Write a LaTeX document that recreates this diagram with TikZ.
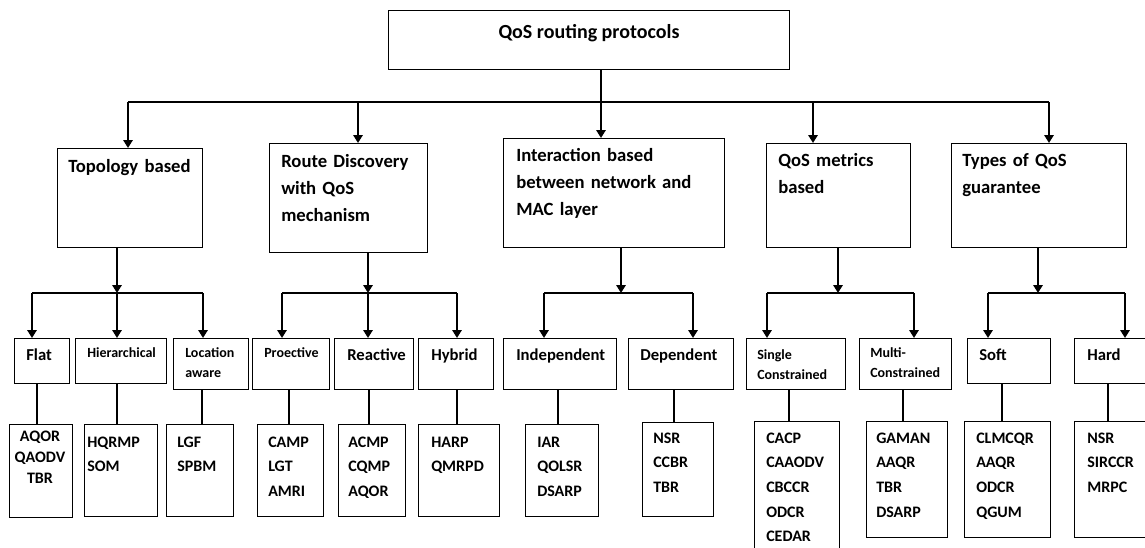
\documentclass[tikz,border=0pt]{standalone}
\usepackage{fontspec}
\setmainfont{Carlito}
\usetikzlibrary{arrows.meta}

\begin{document}
\begin{tikzpicture}[
    % Environment Config
    x=0.75pt, y=-0.75pt,
    Box/.style={% Style for the boxes
      draw,
      line width=1pt,
      anchor=north west,
      inner sep=0pt
    },
    Size/.style 2 args={% Box size in pixels
      minimum width=#1*0.75pt,
      minimum height=#2*0.75pt
    },
    Txt/.style={% Style for the texts in the boxes
      anchor=base west,
      inner sep=0pt,
      align=left,
      text width=6cm
    },
    TopTxt/.style={Txt, font={\fontsize{14}{20.3}\selectfont\bfseries}},
    MidTxt/.style={Txt, font={\fontsize{12.5}{16}\selectfont\bfseries}},
    SmallTxt/.style={Txt, font={\fontsize{10.5}{15}\selectfont\bfseries}},
    LeafTxt/.style={Txt, font={\fontsize{12}{18.5}\selectfont\bfseries}},
    MyArrow/.style={% Style for the arrows
      -{Triangle[length=6pt,width=7pt]},
      line width=1.8pt
    },
    Bus/.style={line width=1pt},
    Link/.style={line width=0.8pt}
  ]

  \useasboundingbox (0,0) rectangle (1145,547);

  % Level one
  \node[Box, Size={401}{59}] (Root) at (388,10) {};
  \node[Box, Size={145}{99}] (Topo) at (57,148) {};
  \node[Box, Size={158}{109}] (Route) at (269,143) {};
  \node[Box, Size={221}{109}] (Inter) at (503,138) {};
  \node[Box, Size={144}{104}] (Metric) at (766,143) {};
  \node[Box, Size={175}{104}] (Types) at (951,143) {};

  \node[inner sep=0pt, anchor=base, font={\fontsize{15}{18}\selectfont\bfseries}] (Root-T) at (589,38) {QoS routing protocols};
  \node[TopTxt] (Topo-T) at (68,172) {Topology based};
  \node[TopTxt] (Route-T) at (281,167) {Route Discovery\\with QoS\\mechanism};
  \node[TopTxt] (Inter-T) at (516,161) {Interaction based\\between network and\\MAC layer};
  \node[TopTxt] (Metric-T) at (778,166) {QoS metrics\\based};
  \node[TopTxt] (Types-T) at (962,166) {Types of QoS\\guarantee};

  % Level two
  \node[Box, Size={55}{45}] (Flat) at (14,338) {};
  \node[Box, Size={91}{45}] (Hier) at (75,338) {};
  \node[Box, Size={75}{51}] (Loc) at (173,338) {};
  \node[Box, Size={77}{51}] (Pro) at (252,338) {};
  \node[Box, Size={79}{51}] (Rea) at (334,338) {};
  \node[Box, Size={75}{51}] (Hyb) at (418,338) {};
  \node[Box, Size={113}{51}] (Ind) at (503,338) {};
  \node[Box, Size={105}{51}] (Dep) at (628,338) {};
  \node[Box, Size={99}{51}] (Sgl) at (746,338) {};
  \node[Box, Size={92}{51}] (Mul) at (859,338) {};
  \node[Box, Size={83}{45}] (Soft) at (967,338) {};
  \node[Box, Size={80}{45}] (Hard) at (1074,338) {};

  \node[MidTxt] (Flat-T) at (26,360) {Flat};
  \node[SmallTxt] (Hier-T) at (87,357) {Hierarchical};
  \node[SmallTxt] (Loc-T) at (185,357) {Location\\aware};
  \node[SmallTxt] (Pro-T) at (264,357) {Proective};
  \node[MidTxt] (Rea-T) at (347,360) {Reactive};
  \node[MidTxt] (Hyb-T) at (431,360) {Hybrid};
  \node[MidTxt] (Ind-T) at (516,360) {Independent};
  \node[MidTxt] (Dep-T) at (640,360) {Dependent};
  \node[SmallTxt] (Sgl-T) at (757,359) {Single\\Constrained};
  \node[SmallTxt] (Mul-T) at (870,357) {Multi-\\Constrained};
  \node[MidTxt] (Soft-T) at (979,360) {Soft};
  \node[MidTxt] (Hard-T) at (1087,360) {Hard};

  % Protocol lists
  \node[Box, Size={63}{93}] (Flat-L) at (9,424) {};
  \node[Box, Size={73}{92}] (Hier-L) at (84,424) {};
  \node[Box, Size={67}{92}] (Loc-L) at (166,424) {};
  \node[Box, Size={66}{92}] (Pro-L) at (257,424) {};
  \node[Box, Size={67}{92}] (Rea-L) at (338,424) {};
  \node[Box, Size={81}{92}] (Hyb-L) at (418,424) {};
  \node[Box, Size={73}{92}] (Ind-L) at (525,424) {};
  \node[Box, Size={71}{94}] (Dep-L) at (642,422) {};
  \node[Box, Size={85}{140}] (Sgl-L) at (754,421) {};
  \node[Box, Size={81}{116}] (Mul-L) at (866,421) {};
  \node[Box, Size={86}{116}] (Soft-L) at (964,421) {};
  \node[Box, Size={80}{116}] (Hard-L) at (1074,421) {};

  \node[LeafTxt, anchor=base, align=center, text width=2cm, font={\fontsize{12}{15.75}\selectfont\bfseries}] (Flat-L-T) at (40,441) {AQOR\\QAODV\\TBR};
  \node[LeafTxt] (Hier-L-T) at (87,447) {HQRMP\\SOM};
  \node[LeafTxt] (Loc-L-T) at (177,447) {LGF\\SPBM};
  \node[LeafTxt] (Pro-L-T) at (268,447) {CAMP\\LGT\\AMRI};
  \node[LeafTxt] (Rea-L-T) at (348,447) {ACMP\\CQMP\\AQOR};
  \node[LeafTxt] (Hyb-L-T) at (431,447) {HARP\\QMRPD};
  \node[LeafTxt] (Ind-L-T) at (537,447) {IAR\\QOLSR\\DSARP};
  \node[LeafTxt] (Dep-L-T) at (653,443) {NSR\\CCBR\\TBR};
  \node[LeafTxt] (Sgl-L-T) at (766,443) {CACP\\CAAODV\\CBCCR\\ODCR\\CEDAR};
  \node[LeafTxt] (Mul-L-T) at (876,443) {GAMAN\\AAQR\\TBR\\DSARP};
  \node[LeafTxt] (Soft-L-T) at (976,443) {CLMCQR\\AAQR\\ODCR\\QGUM};
  \node[LeafTxt] (Hard-L-T) at (1087,443) {NSR\\SIRCCR\\MRPC};

  % Arrows from the root
  \coordinate (B1) at (128,102);
  \coordinate (B2) at (358,102);
  \coordinate (B3) at (601,102);
  \coordinate (B4) at (813,102);
  \coordinate (B5) at (1049,102);
  \draw[Bus] (B1) -- (B5);
  \draw[MyArrow] (B3 |- Root.south) -- (B3 |- Inter.north);
  \foreach \b/\n in {B1/Topo, B2/Route, B4/Metric, B5/Types}
    \draw[MyArrow] (\b) -- (\b |- \n.north);

  % Arrows to level two
  \foreach \n/\x in {Topo/117, Route/368, Inter/621, Metric/838, Types/1038}{
    \coordinate (d\n) at (\x,293);
    \draw[MyArrow] (d\n |- \n.south) -- (d\n);
  }
  \foreach \n/\x in {Flat/32, Hier/117, Loc/203, Pro/282, Rea/368, Hyb/457,
                     Ind/544, Dep/693, Sgl/767, Mul/914, Soft/988, Hard/1125}{
    \coordinate (a\n) at (\x,293);
    \draw[MyArrow] (a\n) -- (a\n |- \n.north);
  }
  \draw[Bus] (aFlat) -- (aLoc) (aPro) -- (aHyb) (aInd) -- (aDep)
    (aSgl) -- (aMul) (aSoft) -- (aHard);

  % Links to the protocol lists
  \foreach \n/\x in {Flat/37, Hier/117, Loc/202, Pro/289, Rea/369, Hyb/457,
                     Ind/558, Dep/674, Sgl/789, Mul/903, Soft/1002, Hard/1108}{
    \coordinate (l\n) at (\x,0);
    \draw[Link] (l\n |- \n.south) -- (l\n |- \n-L.north);
  }

\end{tikzpicture}
\end{document}
